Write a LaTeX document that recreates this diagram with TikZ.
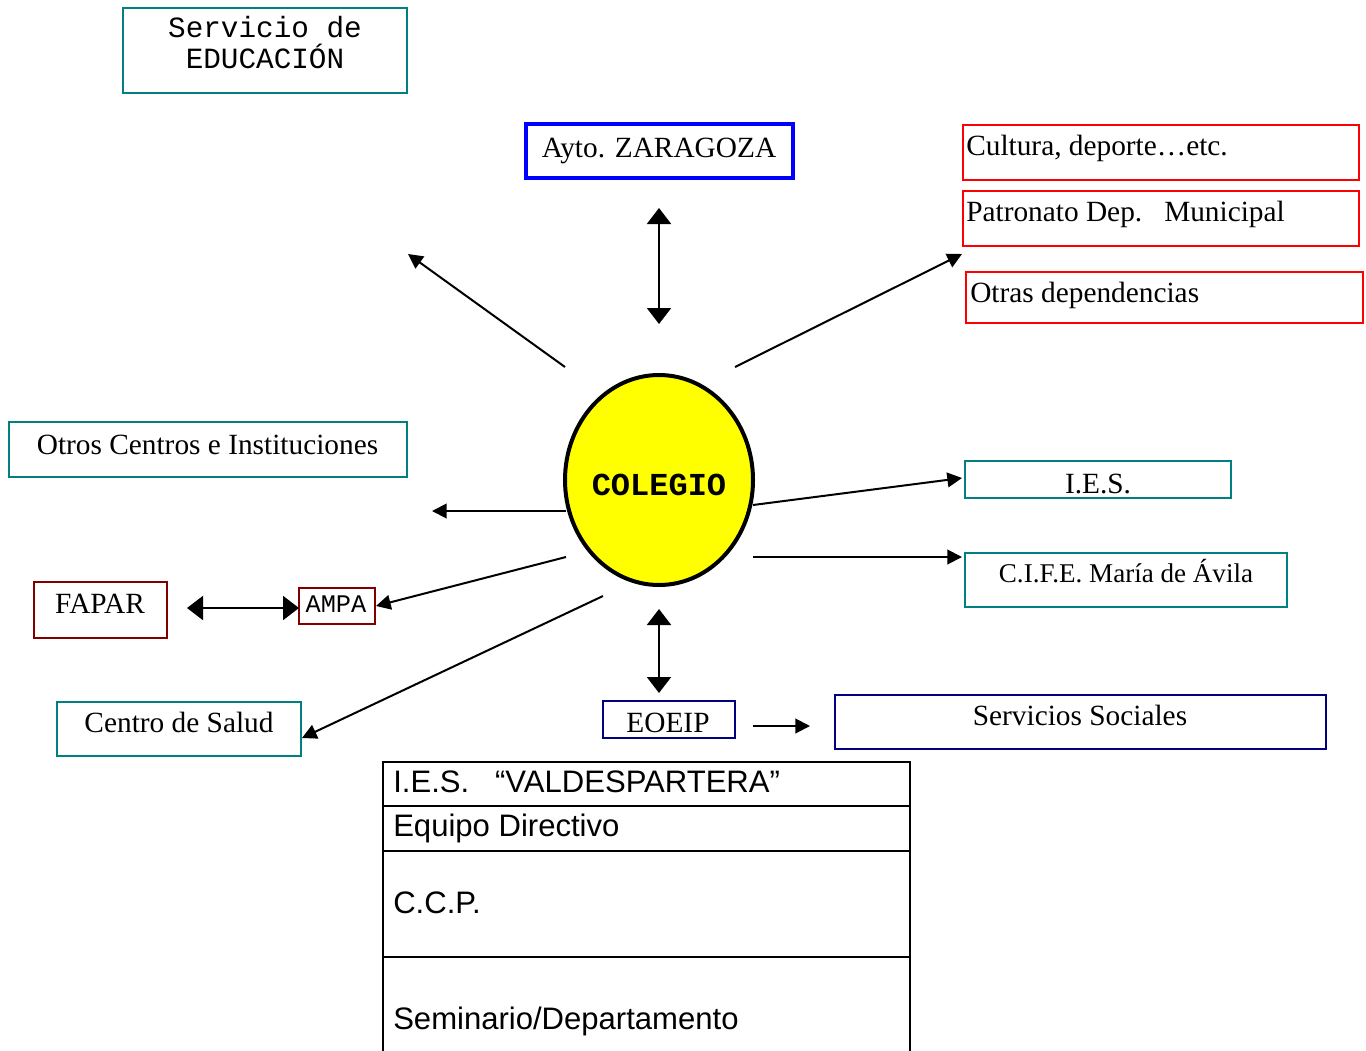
\documentclass[tikz,border=0pt]{standalone}
\usepackage{fontspec}
\setmainfont{Liberation Serif}
\setsansfont{Liberation Sans}
\setmonofont{Liberation Mono}
\usetikzlibrary{arrows.meta,shapes.geometric}
\definecolor{tealc}{RGB}{0,128,128}
\definecolor{redc}{RGB}{255,0,0}
\definecolor{bluec}{RGB}{0,0,255}
\definecolor{maroonc}{RGB}{128,0,0}
\definecolor{navyc}{RGB}{0,0,128}
\definecolor{yellowc}{RGB}{255,255,0}
\newcommand\mkbox[7]{\node[#2, minimum width={(#5-#3-#7)*0.75pt}, minimum height={(#6-#4-#7)*0.75pt}] (#1) at ({(#3+#5)/2},{(#4+#6)/2}) {};}
\tikzset{
  x=0.75pt, y=-0.75pt,
  frame/.style={draw, line width=1.5pt, inner sep=0pt, outer sep=0pt},
  tealbox/.style={frame, draw=tealc},
  redbox/.style={frame, draw=redc},
  bluebox/.style={frame, draw=bluec, line width=3pt},
  maroonbox/.style={frame, draw=maroonc},
  navybox/.style={frame, draw=navyc},
  lbl/.style={inner sep=0pt, anchor=base, font=\fontsize{22}{26}\selectfont},
  lblw/.style={lbl, anchor=base west},
  monolbl/.style={inner sep=0pt, anchor=base, font=\fontsize{22}{26}\selectfont\ttfamily},
  tablbl/.style={inner sep=0pt, anchor=base west, font=\fontsize{23.3}{28}\selectfont\sffamily},
  conn/.style={line width=1.5pt, -{Triangle[length=11pt,width=11pt]}},
  dconn/.style={line width=1.5pt, {Triangle[length=12pt,width=18pt]}-{Triangle[length=12pt,width=18pt]}},
  rule/.style={line width=1.5pt}
}
\begin{document}
\begin{tikzpicture}
\useasboundingbox (0,0) rectangle (1366,1050);
% boxes
\mkbox{edu}{tealbox}{122}{7}{408}{94}{2}
\mkbox{ayto}{bluebox}{524}{122}{795}{180}{4}
\mkbox{cult}{redbox}{962}{124}{1360}{181}{2}
\mkbox{patr}{redbox}{962}{190}{1360}{247}{2}
\mkbox{otras}{redbox}{965}{271}{1364}{324}{2}
\mkbox{otros}{tealbox}{8}{421}{408}{478}{2}
\mkbox{ies}{tealbox}{964}{460}{1232}{499}{2}
\mkbox{cife}{tealbox}{964}{552}{1288}{608}{2}
\mkbox{fapar}{maroonbox}{33}{581}{168}{639}{2}
\mkbox{ampa}{maroonbox}{298}{587}{376}{625}{2}
\mkbox{salud}{tealbox}{56}{701}{302}{757}{2}
\mkbox{eoeip}{navybox}{602}{700}{736}{739}{2}
\mkbox{ssoc}{navybox}{834}{694}{1327}{750}{2}
\node[ellipse, draw, line width=3pt, fill=yellowc, inner sep=0pt,
  minimum width=141pt, minimum height=157.5pt] (col) at (659,480) {};
% texts
\node[monolbl] (edut1) at (265,37) {Servicio de};
\node[monolbl] (edut2) at (265,68) {EDUCACIÓN};
\node[lbl] (aytot) at (659,157) {Ayto. ZARAGOZA};
\node[lblw] (cultt) at (966,155) {Cultura, deporte…etc.};
\node[lblw] (patrt) at (966,221) {Patronato Dep.\ \ \ Municipal};
\node[lblw] (otrast) at (970,302) {Otras dependencias};
\node[inner sep=0pt, anchor=base, font=\fontsize{24}{28}\selectfont\ttfamily\bfseries] (colt) at (659,495) {COLEGIO};
\node[lbl] (otrost) at (207.5,454) {Otros Centros e Instituciones};
\node[lbl] (iest) at (1098,493) {I.E.S.};
\node[lbl, font=\fontsize{20.3}{24}\selectfont] (cifet) at (1126,582) {C.I.F.E. María de Ávila};
\node[lbl] (fapart) at (100,613) {FAPAR};
\node[inner sep=0pt, anchor=base, font=\fontsize{19}{23}\selectfont\ttfamily] (ampat) at (336,612) {AMPA};
\node[lbl] (saludt) at (179,732) {Centro de Salud};
\node[lbl] (eoeipt) at (668,732) {EOEIP};
\node[lbl] (ssoct) at (1080,725) {Servicios Sociales};
% connector end points
\coordinate (a1s) at (565,367); \coordinate (a1e) at (408,254);
\coordinate (a2s) at (659,208); \coordinate (a2e) at (659,324);
\coordinate (a3s) at (735,367); \coordinate (a3e) at (962,254);
\coordinate (a4s) at (566,511); \coordinate (a4e) at (432,511);
\coordinate (a5s) at (753,505); \coordinate (a5e) at (962,478);
\coordinate (a6s) at (753,557); \coordinate (a6e) at (962,557);
\coordinate (a7s) at (566,557); \coordinate (a7e) at (376,606);
\coordinate (a8s) at (187,608); \coordinate (a8e) at (299,608);
\coordinate (a9s) at (603,596); \coordinate (a9e) at (302,738);
\coordinate (a10s) at (659,609); \coordinate (a10e) at (659,693);
\coordinate (a11s) at (753,726); \coordinate (a11e) at (810,726);
\draw[conn] (a1s) -- (a1e);
\draw[dconn] (a2s) -- (a2e);
\draw[conn] (a3s) -- (a3e);
\draw[conn] (a4s) -- (a4e);
\draw[conn] (a5s) -- (a5e);
\draw[conn] (a6s) -- (a6e);
\draw[conn] (a7s) -- (a7e);
\draw[dconn] (a8s) -- (a8e);
\draw[conn] (a9s) -- (a9e);
\draw[dconn] (a10s) -- (a10e);
\draw[conn] (a11s) -- (a11e);
% table
\draw[rule] (383,1060) -- (383,762) -- (910,762) -- (910,1060);
\draw[rule] (383,806) -- (910,806);
\draw[rule] (383,851) -- (910,851);
\draw[rule] (383,957) -- (910,957);
\node[tablbl] (t1) at (393,792) {I.E.S.\ \ \ “VALDESPARTERA”};
\node[tablbl] (t2) at (393,836) {Equipo Directivo};
\node[tablbl] (t3) at (393,913) {C.C.P.};
\node[tablbl] (t4) at (393,1029) {Seminario/Departamento};
\end{tikzpicture}
\end{document}
